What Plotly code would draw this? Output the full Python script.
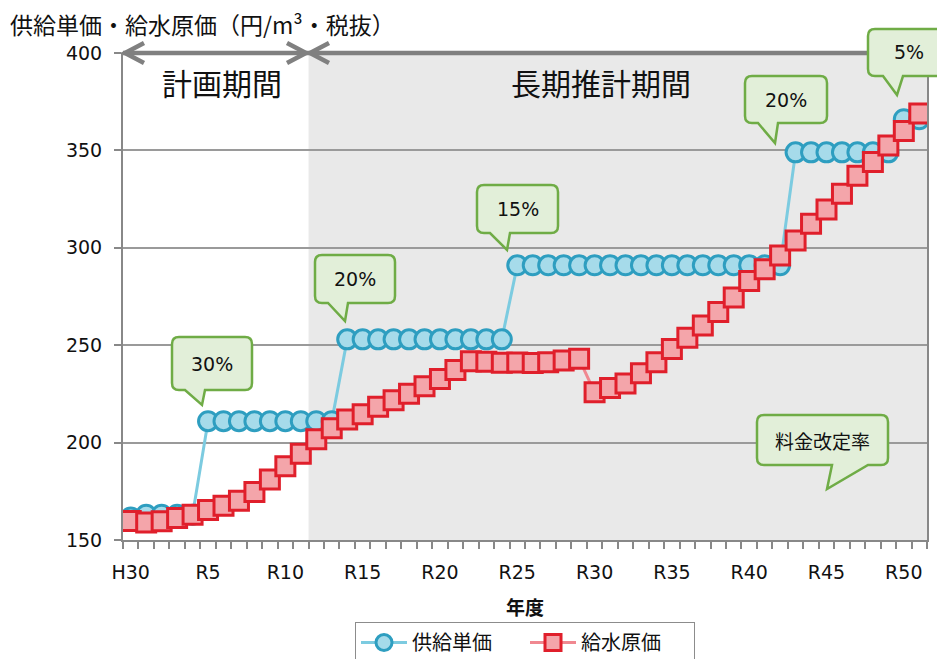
import plotly.graph_objects as go

# ---- data ----
year_index = list(range(52))  # H30, R1 ... R51
tick_positions = [0, 5, 10, 15, 20, 25, 30, 35, 40, 45, 50]
tick_labels = ["H30", "R5", "R10", "R15", "R20", "R25", "R30", "R35", "R40", "R45", "R50"]

supply_price = [161.5, 163, 163, 163, 163,
                211, 211, 211, 211, 211, 211, 211, 211, 211,
                253, 253, 253, 253, 253, 253, 253, 253, 253, 253, 253,
                291, 291, 291, 291, 291, 291, 291, 291, 291, 291, 291, 291, 291, 291, 291, 291, 291, 291,
                349, 349, 349, 349, 349, 349, 349,
                366, 366]
water_cost = [159.7, 159.0, 159.6, 161.3, 163.0, 165.4, 167.6, 170.1, 174.7, 181.0,
              187.8, 194.3, 201.7, 207.4, 211.8, 214.6, 218.4, 221.7, 225.1, 228.9,
              232.6, 237.3, 241.8, 241.5, 241.0, 241.1, 240.8, 241.3, 242.2, 243.0,
              225.8, 228.0, 230.4, 235.6, 241.3, 248.1, 253.8, 260.1, 267.0, 274.5,
              282.9, 289.0, 296.0, 303.8, 312.4, 319.6, 327.8, 337.0, 344.0, 352.5,
              360.0, 369.0]

callout_texts = ["30%", "20%", "15%", "20%", "5%", "料金改定率"]

# ---- layout geometry ----
# The page body has an 8px margin, so the figure is drawn 8px in from the top-left.
OFF = 8
W, H = 945 - OFF, 659 - OFF
ML, MR, MT, MB = 115, 18, 45, 119
PW, PH = W - ML - MR, H - MT - MB


def px(x):
    """screen x (px) -> paper x"""
    return (x - OFF - ML) / PW


def py(y):
    """screen y (px) -> paper y"""
    return (H - MB - (y - OFF)) / PH


JP = "Noto Sans CJK JP"
LAT = "DejaVu Sans"

fig = go.Figure()
fig.add_trace(go.Scatter(
    x=year_index, y=supply_price, name="供給単価", mode="lines+markers",
    line=dict(color="#7ccbe0", width=3),
    marker=dict(symbol="circle", size=19, color="#a6dbea",
                line=dict(color="#2e9ec0", width=3)),
))
fig.add_trace(go.Scatter(
    x=year_index, y=water_cost, name="給水原価", mode="lines+markers",
    line=dict(color="#f08890", width=3),
    marker=dict(symbol="square", size=19, color="#f4a5aa",
                line=dict(color="#e01f2b", width=3)),
))

shapes = []
shapes.append(dict(type="rect", xref="x", yref="y domain", x0=11.5, x1=51.5, y0=0, y1=1,
                   fillcolor="#e9e9e9", line=dict(width=0), layer="below"))

AC = "#808080"
AY = 53
shapes.append(dict(type="line", xref="paper", yref="paper", x0=px(123), x1=px(950),
                   y0=py(AY), y1=py(AY), line=dict(color=AC, width=4.5)))


def chevron(tipx, direction):
    d = 19 * direction
    return dict(type="path", xref="paper", yref="paper",
                path=f"M {px(tipx + d)} {py(AY - 10)} L {px(tipx)} {py(AY)} L {px(tipx + d)} {py(AY + 10)}",
                line=dict(color=AC, width=4.5))


shapes.append(chevron(125, 1))
shapes.append(chevron(306, -1))
shapes.append(chevron(310, 1))


def callout(x0, y0, x1, y1, bl, br, tx, ty, r=7):
    pts = [
        ("M", x0 + r, y0), ("L", x1 - r, y0), ("Q", x1, y0, x1, y0 + r),
        ("L", x1, y1 - r), ("Q", x1, y1, x1 - r, y1),
        ("L", br, y1), ("L", tx, ty), ("L", bl, y1),
        ("L", x0 + r, y1), ("Q", x0, y1, x0, y1 - r),
        ("L", x0, y0 + r), ("Q", x0, y0, x0 + r, y0),
    ]
    s = []
    for p in pts:
        if p[0] == "Q":
            s.append(f"Q {px(p[1])},{py(p[2])} {px(p[3])},{py(p[4])}")
        else:
            s.append(f"{p[0]} {px(p[1])},{py(p[2])}")
    s.append("Z")
    return dict(type="path", xref="paper", yref="paper", path=" ".join(s),
                fillcolor="#e2efd9", line=dict(color="#6fac46", width=2.5))


boxes = [
    (172, 337, 252, 390, 185, 205, 202, 405),
    (315, 255, 395, 303, 328, 348, 345, 321),
    (477, 185, 558, 233, 490, 510, 507, 250),
    (745, 76, 827, 123, 758, 778, 775, 143),
    (868, 29, 952, 76, 883, 903, 897, 95),
    (757, 415, 888, 465, 832, 868, 827, 489),
]
annotations = []
for b, t in zip(boxes, callout_texts):
    shapes.append(callout(*b))
    cx = (b[0] + b[2]) / 2
    if t == "5%":
        cx = 909
    cy = (b[1] + b[3]) / 2
    annotations.append(dict(text=t, xref="paper", yref="paper", x=px(cx), y=py(cy),
                            showarrow=False, xanchor="center", yanchor="middle",
                            font=dict(family=JP if t == "料金改定率" else LAT,
                                      size=19, color="#111")))

annotations += [
    dict(text="計画期間", xref="paper", yref="paper", x=px(222), y=py(82), showarrow=False,
         xanchor="center", yanchor="middle", font=dict(family=JP, size=30, color="#111")),
    dict(text="長期推計期間", xref="paper", yref="paper", x=px(601), y=py(82), showarrow=False,
         xanchor="center", yanchor="middle", font=dict(family=JP, size=30, color="#111")),
    dict(text="供給単価・給水原価（円/m³・税抜）", xref="paper", yref="paper",
         x=px(8), y=py(24), showarrow=False, xanchor="left", yanchor="middle",
         font=dict(family=JP, size=23, color="#111")),
    dict(text="<b>年度</b>", xref="paper", yref="paper", x=px(525), y=py(606), showarrow=False,
         xanchor="center", yanchor="middle", font=dict(family=JP, size=19, color="#111")),
]

fig.update_layout(
    width=W, height=H,
    margin=dict(l=ML, r=MR, t=MT, b=MB, pad=0, autoexpand=False),
    paper_bgcolor="white", plot_bgcolor="white",
    shapes=shapes, annotations=annotations,
    showlegend=True,
    legend=dict(orientation="h", x=0.5, xanchor="center", yref="container",
                y=(H - (622 - OFF)) / H, yanchor="top",
                bordercolor="#8c8c8c", borderwidth=1, bgcolor="white",
                font=dict(family=JP, size=20, color="#111"), itemwidth=46,
                entrywidth=108),
    xaxis=dict(range=[-0.5, 51.5], tickmode="array", tickvals=tick_positions, ticktext=tick_labels,
               ticks="", showgrid=False, zeroline=False, showline=True, linecolor="#888",
               linewidth=2, ticklabelstandoff=14, automargin=False,
               tickfont=dict(family=LAT, size=19, color="#111"),
               minor=dict(tickmode="linear", tick0=-0.5, dtick=1, ticks="outside", ticklen=7,
                          tickcolor="#888", tickwidth=1.5, showgrid=False)),
    yaxis=dict(range=[150, 400], tickmode="linear", tick0=150, dtick=50, ticks="outside",
               ticklen=7, tickcolor="#888", tickwidth=1.5, showgrid=True, gridcolor="#9a9a9a",
               gridwidth=1.6, zeroline=False, showline=True, linecolor="#888", linewidth=2,
               mirror=True, ticklabelstandoff=8, automargin=False,
               tickfont=dict(family=LAT, size=19, color="#111")),
)

fig.write_html("out.html")
